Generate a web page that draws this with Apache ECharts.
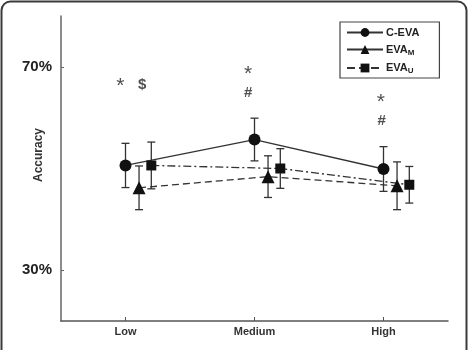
<!DOCTYPE html>
<html>
<head>
<meta charset="utf-8">
<script src="https://cdn.jsdelivr.net/npm/echarts@6/dist/echarts.min.js"></script>
<style>
  html, body { margin: 0; padding: 0; background: #fff; }
  #main { width: 469px; height: 350px; }
</style>
</head>
<body>
<div id="main"></div>
<script>
// 数据
var categories = ['Low', 'Medium', 'High'];
var cevaMean = [50.6, 55.7, 49.9];
var cevaErr = [4.35, 4.2, 4.4];
var evaMMean = [46.2, 48.4, 46.6];
var evaMErr = [4.3, 4.1, 4.7];
var evaUMean = [50.6, 50.0, 46.8];
var evaUErr = [4.6, 3.9, 3.6];
var yTicks = [30, 70];

// 显著性标记
var sigText = ['*', '$', '*', '#', '*', '#'];
var sigCat = [0, 0, 1, 1, 2, 2];
var sigY = [66.9, 66.5, 69.4, 64.9, 63.9, 59.4];

// 每组的水平偏移
var offsets = [0, 0.105, 0.2];
var sigDx = [-0.04, 0.13, -0.05, -0.05, -0.02, -0.015];

var myChart = echarts.init(document.getElementById('main'));

function pts(mean, off) {
    return mean.map(function (v, i) { return [i + off, v]; });
}
function bars(mean, err, off) {
    return mean.map(function (v, i) { return [i + off, v - err[i], v + err[i]]; });
}

function renderErr(params, api) {
    var x = api.value(0);
    var lo = api.coord([x, api.value(1)]);
    var hi = api.coord([x, api.value(2)]);
    var w = 4;
    var st = { stroke: '#333', lineWidth: 1.3 };
    return {
        type: 'group',
        children: [
            { type: 'line', shape: { x1: hi[0], y1: hi[1], x2: lo[0], y2: lo[1] }, style: st },
            { type: 'line', shape: { x1: hi[0] - w, y1: hi[1], x2: hi[0] + w, y2: hi[1] }, style: st },
            { type: 'line', shape: { x1: lo[0] - w, y1: lo[1], x2: lo[0] + w, y2: lo[1] }, style: st }
        ]
    };
}

var errData = bars(cevaMean, cevaErr, offsets[0])
    .concat(bars(evaMMean, evaMErr, offsets[1]))
    .concat(bars(evaUMean, evaUErr, offsets[2]));

var sigData = sigText.map(function (t, i) {
    return {
        value: [sigCat[i] + sigDx[i], sigY[i]],
        label: { formatter: t, fontSize: t === '*' ? 21 : 15, fontWeight: t === '*' ? 'normal' : 'bold',
                 offset: [0, t === '*' ? 4 : 0] }
    };
});

var font = 'Liberation Sans, Arial, sans-serif';

var option = {
    animation: false,
    textStyle: { fontFamily: font },
    graphic: [{
        type: 'rect',
        shape: { x: 1.5, y: 1.5, width: 465, height: 380, r: 9 },
        style: { fill: 'none', stroke: '#3a3a3a', lineWidth: 2 },
        silent: true
    }],
    grid: { left: 61, right: 21, top: 16, bottom: 29, outerBoundsMode: 'none' },
    legend: {
        orient: 'vertical',
        left: 340,
        top: 22,
        width: 104,
        padding: [5, 20, 3, 6],
        borderColor: '#444',
        borderWidth: 1.2,
        itemGap: 6,
        itemWidth: 36,
        itemHeight: 11,
        data: [
            { name: 'C-EVA' },
            { name: 'EVA_M', lineStyle: { type: 'solid' } },
            { name: 'EVA_U', lineStyle: { type: 'dashed' } }
        ],
        formatter: function (name) {
            if (name === 'EVA_M') return 'EVA{sub|M}';
            if (name === 'EVA_U') return 'EVA{sub|U}';
            return name;
        },
        textStyle: {
            fontFamily: font,
            fontSize: 11,
            fontWeight: 'bold',
            color: '#222',
            padding: [0, 0, 0, -2],
            rich: {
                sub: { fontSize: 8, fontWeight: 'bold', color: '#222', padding: [6, 0, 0, 0] }
            }
        }
    },
    xAxis: {
        type: 'value',
        min: -0.5,
        max: 2.5,
        splitLine: { show: false },
        axisLine: { onZero: false, lineStyle: { color: '#555', width: 1.5 } },
        axisTick: { inside: true, length: 4, customValues: [0, 1, 2], lineStyle: { color: '#555' } },
        axisLabel: {
            customValues: [0, 1, 2],
            formatter: function (v) { return categories[Math.round(v)]; },
            fontSize: 11,
            fontWeight: 'bold',
            color: '#333',
            margin: 5
        }
    },
    yAxis: {
        type: 'value',
        min: 20,
        max: 80,
        name: 'Accuracy',
        nameLocation: 'middle',
        nameGap: 16,
        nameMoveOverlap: false,
        nameTextStyle: { fontSize: 12, fontWeight: 'bold', color: '#333', padding: [0, 0, 0, 27] },
        splitLine: { show: false },
        axisLine: { onZero: false, lineStyle: { color: '#666', width: 1.5 } },
        axisTick: { inside: true, length: 3, customValues: yTicks, lineStyle: { color: '#666' } },
        axisLabel: {
            customValues: yTicks,
            formatter: '{value}%',
            fontSize: 15,
            fontWeight: 'bold',
            color: '#222',
            margin: 9
        }
    },
    series: [
        {
            type: 'custom',
            name: 'err',
            renderItem: renderErr,
            data: errData,
            z: 1,
            silent: true
        },
        {
            name: 'C-EVA',
            type: 'line',
            data: pts(cevaMean, offsets[0]),
            symbol: 'circle',
            symbolSize: 12,
            itemStyle: { color: '#111' },
            lineStyle: { color: '#333', width: 1.3, type: 'solid' },
            z: 3
        },
        {
            name: 'EVA_M',
            type: 'line',
            data: pts(evaMMean, offsets[1]),
            symbol: 'triangle',
            symbolSize: 13,
            itemStyle: { color: '#111' },
            lineStyle: { color: '#333', width: 1.3, type: [7, 4] },
            z: 3
        },
        {
            name: 'EVA_U',
            type: 'line',
            data: pts(evaUMean, offsets[2]),
            symbol: 'rect',
            symbolSize: 10,
            itemStyle: { color: '#111' },
            lineStyle: { color: '#333', width: 1.3, type: [8, 3, 2, 3] },
            z: 3
        },
        {
            type: 'scatter',
            name: 'sig',
            data: sigData,
            symbolSize: 0,
            silent: true,
            label: {
                show: true,
                position: 'inside',
                fontSize: 15,
                fontWeight: 'bold',
                color: '#222',
                fontFamily: font
            }
        }
    ]
};

myChart.setOption(option);
</script>
</body>
</html>
